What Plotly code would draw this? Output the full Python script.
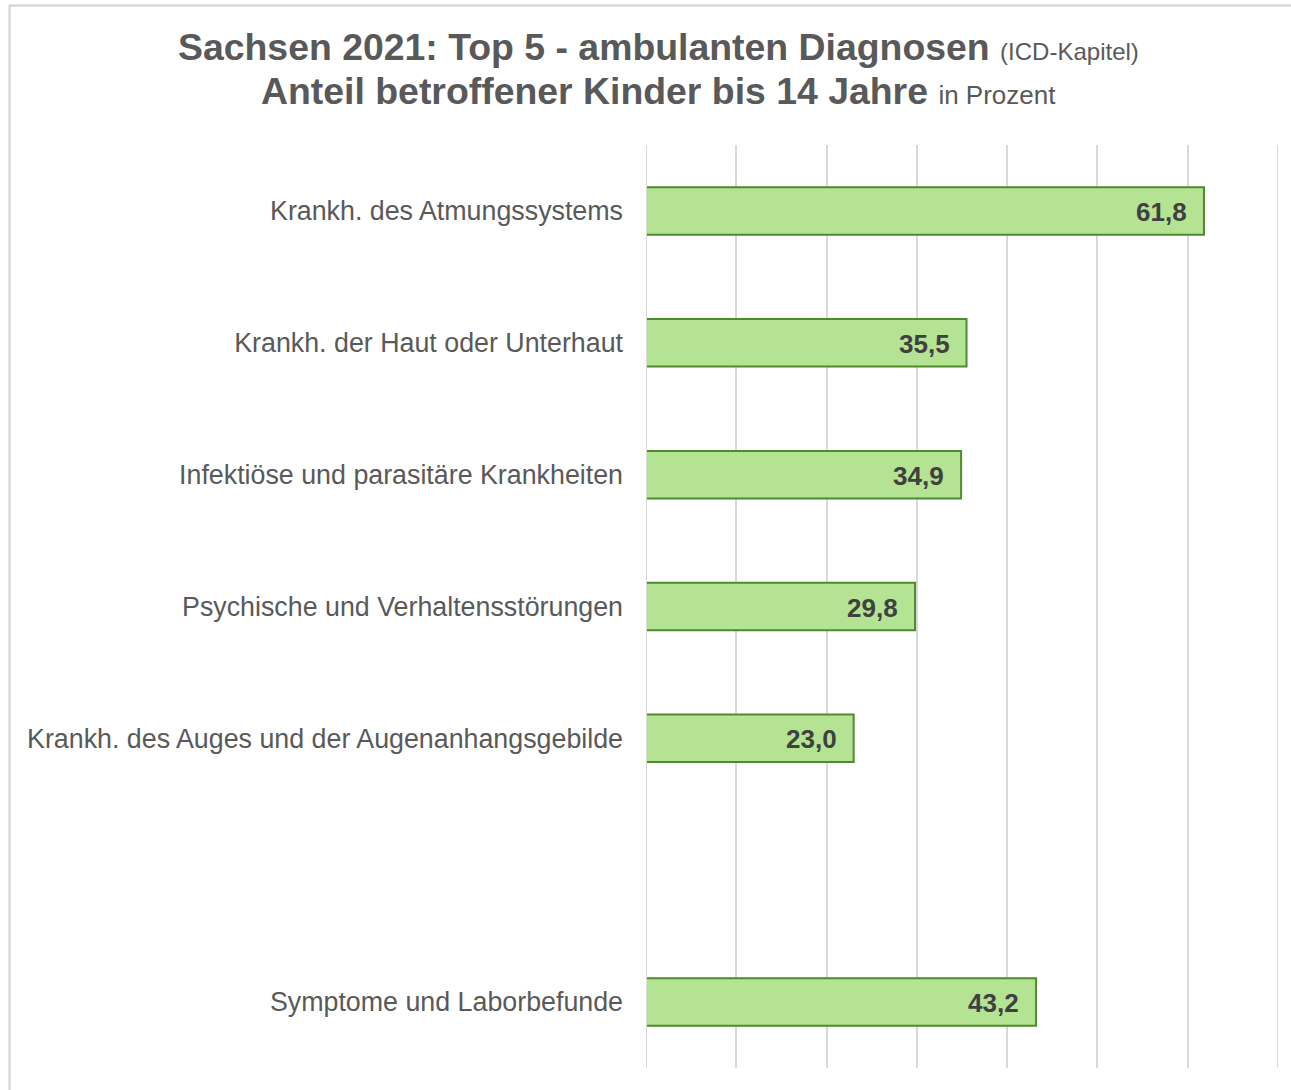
import plotly.graph_objects as go

# Diagnosis chapters (top to bottom); the blank entry separates the last bar
categories = [
    "Krankh. des Atmungssystems",
    "Krankh. der Haut oder Unterhaut",
    "Infektiöse und parasitäre Krankheiten",
    "Psychische und Verhaltensstörungen",
    "Krankh. des Auges und der Augenanhangsgebilde",
    " ",
    "Symptome und Laborbefunde",
]
values = [61.8, 35.5, 34.9, 29.8, 23.0, None, 43.2]
x_ticks = [0, 10, 20, 30, 40, 50, 60, 70]

W, H = 1291, 1090
L, R, T, B = 646, 13, 145, 22
plot_w = W - L - R
plot_h = H - T - B


def px_x(px):
    return (px - L) / plot_w


def px_y(py):
    return (H - B - py) / plot_h


FONT = "Liberation Sans, Arial, sans-serif"
GREY = "#595959"
GRID = "#d9d9d9"

fig = go.Figure()
fig.add_trace(go.Bar(
    x=values,
    y=categories,
    orientation="h",
    width=0.36,
    marker=dict(color="#b5e394", line=dict(color="#4f8b2a", width=2)),
    hoverinfo="skip",
))

# value labels at the inner end of each bar
for cat, v in zip(categories, values):
    if v is None:
        continue
    fig.add_annotation(
        x=v, y=cat, xref="x", yref="y",
        text=f"<b>{v:.1f}</b>".replace(".", ","),
        showarrow=False, xanchor="right", yanchor="middle",
        xshift=-15, yshift=-1,
        font=dict(family=FONT, size=26, color="#404040"),
    )

# two-line title with smaller, regular-weight suffixes
fig.add_annotation(
    x=px_x(658), y=px_y(47), xref="paper", yref="paper",
    text="<b>Sachsen 2021: Top 5 - ambulanten Diagnosen</b> "
         "<span style='font-size:24px'>(ICD-Kapitel)</span>",
    showarrow=False, xanchor="center", yanchor="middle",
    font=dict(family=FONT, size=37.4, color=GREY),
)
fig.add_annotation(
    x=px_x(658), y=px_y(91), xref="paper", yref="paper",
    text="<b>Anteil betroffener Kinder bis 14 Jahre</b> "
         "<span style='font-size:26px'>in Prozent</span>",
    showarrow=False, xanchor="center", yanchor="middle",
    font=dict(family=FONT, size=37.4, color=GREY),
)

# chart frame
fig.add_shape(
    type="rect", xref="paper", yref="paper",
    x0=px_x(9.5), x1=px_x(1295), y0=px_y(1095), y1=px_y(5.5),
    line=dict(color="#d0d0d0", width=2), fillcolor="rgba(0,0,0,0)",
    layer="below",
)
# outer gridline at the end of the scale
fig.add_shape(
    type="line", xref="x", yref="paper",
    x0=x_ticks[-1], x1=x_ticks[-1], y0=0, y1=1,
    line=dict(color=GRID, width=2), layer="below",
)
# base line at zero drawn over the bars' left edges
fig.add_shape(
    type="line", xref="x", yref="paper",
    x0=0, x1=0, y0=0, y1=1,
    line=dict(color=GRID, width=2), layer="above",
)

fig.update_layout(
    width=W, height=H, autosize=False,
    margin=dict(l=L, r=R, t=T, b=B, pad=0),
    paper_bgcolor="white", plot_bgcolor="white",
    showlegend=False,
    font=dict(family=FONT, color=GREY),
    xaxis=dict(
        range=[0, 70], tickvals=x_ticks, showticklabels=False,
        showgrid=True, gridcolor=GRID, gridwidth=2,
        zeroline=False, showline=False, fixedrange=True,
    ),
    yaxis=dict(
        categoryorder="array", categoryarray=categories,
        autorange="reversed", showgrid=False, zeroline=False,
        showline=False, ticks="", ticklabelstandoff=22,
        tickfont=dict(family=FONT, size=26.8, color=GREY),
        fixedrange=True,
    ),
)

fig.write_html("out.html")
